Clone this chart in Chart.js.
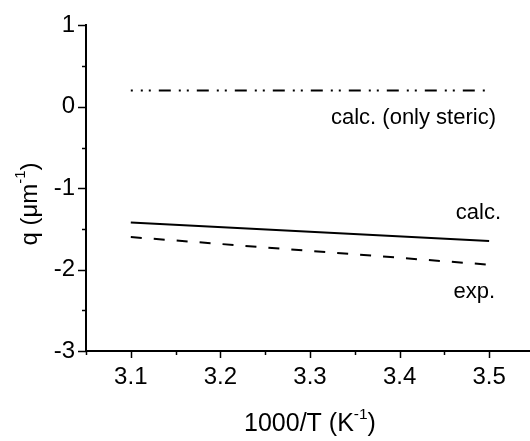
<!DOCTYPE html>
<html>
<head>
<meta charset="utf-8">
<script src="https://cdn.jsdelivr.net/npm/chart.js@4.4.1/dist/chart.umd.min.js"></script>
<style>
  html, body { margin: 0; padding: 0; background: #fff; }
</style>
</head>
<body>
<canvas id="grafica" width="530" height="441"></canvas>
<script>
// datos
const xRange = [3.1, 3.5];
const stericValues = [0.2, 0.2];
const calcValues = [-1.42, -1.65];
const expValues = [-1.6, -1.94];
const xMajorTicks = [3.1, 3.2, 3.3, 3.4, 3.5];
const xMinorTicks = [3.05, 3.15, 3.25, 3.35, 3.45];
const yMajorTicks = [1, 0, -1, -2, -3];
const yMinorTicks = [0.5, -0.5, -1.5, -2.5];
const seriesLabels = ['calc. (only steric)', 'calc.', 'exp.'];

const FUENTE = '"Liberation Sans", Arial, Helvetica, sans-serif';
const NEGRO = '#000000';

function puntos(valores) {
    return xRange.map((x, i) => ({ x: x, y: valores[i] }));
}

function marcas(mayores, menores) {
    return mayores.concat(menores).sort((a, b) => a - b).map(v => ({ value: v }));
}

function esMayor(lista, v) {
    return lista.some(m => Math.abs(m - v) < 1e-9);
}

// texto con superindice: [['1000/T (K', false], ['-1', true], [')', false]]
function textoSup(ctx, partes, size) {
    let ancho = 0;
    partes.forEach(([t, sup]) => {
        ctx.font = (sup ? size * 0.62 : size) + 'px ' + FUENTE;
        ancho += ctx.measureText(t).width;
    });
    let x = -ancho / 2;
    partes.forEach(([t, sup]) => {
        ctx.font = (sup ? size * 0.62 : size) + 'px ' + FUENTE;
        ctx.fillText(t, x, sup ? -size * 0.38 : 0);
        x += ctx.measureText(t).width;
    });
}

const pluginTinta = {
    id: 'tinta',
    afterDraw(chart) {
        const { ctx, scales: { x, y } } = chart;
        ctx.save();
        ctx.strokeStyle = NEGRO;
        ctx.fillStyle = NEGRO;
        ctx.lineWidth = 1.5;

        // marcas del eje x (hacia abajo)
        x.ticks.forEach(t => {
            const px = Math.round(x.getPixelForValue(t.value)) + 0.5;
            const largo = esMayor(xMajorTicks, t.value) ? 7 : 4;
            ctx.beginPath();
            ctx.moveTo(px, x.top);
            ctx.lineTo(px, x.top + largo);
            ctx.stroke();
        });
        // marcas del eje y (hacia la izquierda)
        y.ticks.forEach(t => {
            const py = Math.round(y.getPixelForValue(t.value)) + 0.5;
            const largo = esMayor(yMajorTicks, t.value) ? 8 : 4;
            ctx.beginPath();
            ctx.moveTo(y.right, py);
            ctx.lineTo(y.right - largo, py);
            ctx.stroke();
        });

        // etiquetas de las curvas
        ctx.textAlign = 'right';
        ctx.textBaseline = 'middle';
        ctx.font = '22px ' + FUENTE;
        ctx.fillText(seriesLabels[0], 496, 118);
        ctx.fillText(seriesLabels[1], 501, 213);
        ctx.fillText(seriesLabels[2], 495, 292);

        // titulos de los ejes
        ctx.textAlign = 'left';
        ctx.textBaseline = 'middle';
        ctx.save();
        ctx.translate((x.left + x.right) / 2 + 2, 424);
        textoSup(ctx, [['1000/T (K', false], ['-1', true], [')', false]], 25);
        ctx.restore();

        ctx.save();
        ctx.translate(30, 204);
        ctx.rotate(-Math.PI / 2);
        textoSup(ctx, [['q (\u03bcm', false], ['-1', true], [')', false]], 24);
        ctx.restore();

        ctx.restore();
    }
};

const ctx = document.getElementById('grafica').getContext('2d');
Chart.defaults.font.family = FUENTE;
Chart.defaults.color = NEGRO;

const grafica = new Chart(ctx, {
    type: 'line',
    data: {
        datasets: [
            {
                label: seriesLabels[0],
                data: puntos(stericValues),
                borderColor: NEGRO,
                borderWidth: 2,
                borderDash: [12, 8, 2, 6, 2, 8],
                borderDashOffset: 10,
                pointRadius: 0
            },
            {
                label: seriesLabels[1],
                data: puntos(calcValues),
                borderColor: NEGRO,
                borderWidth: 2,
                pointRadius: 0
            },
            {
                label: seriesLabels[2],
                data: puntos(expValues),
                borderColor: NEGRO,
                borderWidth: 2,
                borderDash: [11, 12],
                pointRadius: 0
            }
        ]
    },
    options: {
        responsive: false,
        animation: false,
        layout: { padding: { top: 23, right: 0, left: 0, bottom: 0 } },
        plugins: {
            legend: { display: false },
            tooltip: { enabled: false }
        },
        scales: {
            x: {
                type: 'linear',
                min: 3.05,
                max: 3.5456,
                afterBuildTicks: s => { s.ticks = marcas(xMajorTicks, xMinorTicks); },
                afterFit: s => { s.height = 90; },
                grid: { display: false, drawTicks: false },
                border: { display: true, color: NEGRO, width: 2 },
                ticks: {
                    padding: 12,
                    autoSkip: false,
                    maxRotation: 0,
                    font: { size: 24 },
                    callback: v => esMayor(xMajorTicks, v) ? v.toFixed(1) : ''
                }
            },
            y: {
                type: 'linear',
                min: -3,
                max: 1,
                afterBuildTicks: s => { s.ticks = marcas(yMajorTicks, yMinorTicks); },
                afterFit: s => { s.width = 86; },
                grid: { display: false, drawTicks: false },
                border: { display: true, color: NEGRO, width: 2 },
                ticks: {
                    padding: 11,
                    autoSkip: false,
                    font: { size: 24 },
                    callback: v => esMayor(yMajorTicks, v) ? String(v) : ''
                }
            }
        }
    },
    plugins: [pluginTinta]
});
</script>
</body>
</html>
